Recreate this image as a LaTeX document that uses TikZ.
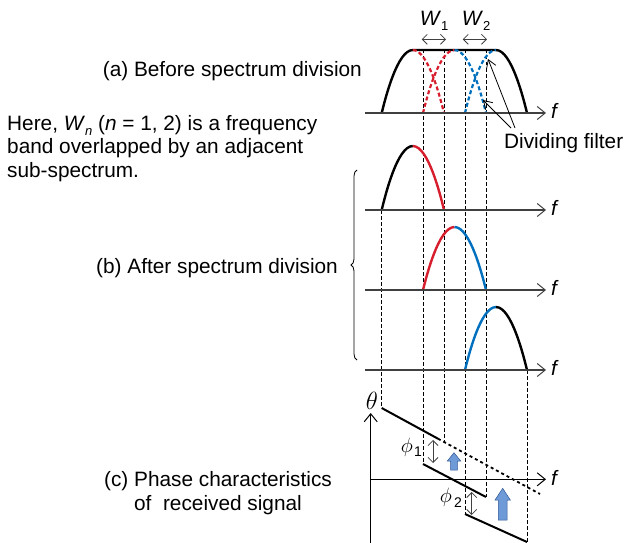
\documentclass[tikz,border=0pt]{standalone}
\usepackage{fontspec}
\setmainfont{Liberation Sans}
\usetikzlibrary{arrows.meta,decorations.pathreplacing}
\definecolor{myred}{RGB}{215,30,45}
\definecolor{myblue}{RGB}{0,112,190}
\definecolor{arrfill}{RGB}{110,155,215}
\definecolor{arrdraw}{RGB}{45,85,150}
\begin{document}
\begin{tikzpicture}[x=1pt,y=-1pt,
  txt/.style={font=\fontsize{20.8}{23.5}\selectfont, inner sep=0pt},
  ftxt/.style={inner sep=0pt, font=\fontsize{20.8}{22.5}\selectfont\itshape},
  axisline/.style={line width=1.2pt, black!75, -{Straight Barb[length=8pt,width=13pt,line width=1pt]}},
  guide/.style={line width=0.7pt, dash pattern=on 3.5pt off 2.5pt},
  curve/.style={line width=2.4pt},
  fdash/.style={line width=2.2pt, dash pattern=on 4pt off 2.5pt},
  dbl/.style={line width=0.8pt, black!75, {Straight Barb[length=5pt,width=10pt]}-{Straight Barb[length=5pt,width=10pt]}},
  pointer/.style={line width=0.8pt, -{Straight Barb[length=8pt,width=10pt]}},
  fat/.style={fill=arrfill, draw=arrdraw, line width=0.5pt},
  phase/.style={line width=2pt},
]
\useasboundingbox (0,0) rectangle (626,543);

% ---------- guide lines ----------
\coordinate (g0a) at (381.7,210); \coordinate (g0b) at (381.7,408);
\coordinate (g1a) at (423,50);    \coordinate (g1b) at (423,464);
\coordinate (g2a) at (444,50);    \coordinate (g2b) at (444,442);
\coordinate (g3a) at (465,50);    \coordinate (g3b) at (465,514);
\coordinate (g4a) at (486,50);    \coordinate (g4b) at (486,497);
\coordinate (g5a) at (527,370);   \coordinate (g5b) at (527,542);
\foreach \i in {0,...,5} \draw[guide] (g\i a) -- (g\i b);

% ---------- (a) before division ----------
\draw[curve] (381.7,113) parabola[bend at end] (412.8,50) -- (496,50) parabola[bend at start] (527,113);
\draw[fdash, myred] (412.8,50) parabola[bend at start] (444,113);
\draw[fdash, myred] (423,113) parabola[bend at end] (454.5,50);
\draw[fdash, myblue] (454.5,50) parabola[bend at start] (486,113);
\draw[fdash, myblue] (465,113) parabola[bend at end] (496,50);
\coordinate (ax0) at (365,113); \coordinate (ax0e) at (546,113);
\draw[axisline] (ax0) -- (ax0e);
\node[ftxt] (f0) at (554,111) {f};

% W arrows
\coordinate (w1a) at (421.7,39.3); \coordinate (w1b) at (446,39.3);
\coordinate (w2a) at (462.7,39.3); \coordinate (w2b) at (487,39.3);
\draw[dbl] (w1a) -- (w1b);
\draw[dbl] (w2a) -- (w2b);
\node[txt] (W1) at (434,21) {\textit{W}\raisebox{-0.45ex}{\fontsize{13}{13}\selectfont 1}};
\node[txt] (W2) at (476,21) {\textit{W}\raisebox{-0.45ex}{\fontsize{13}{13}\selectfont 2}};

% dividing filter
\node[txt, anchor=west] (df) at (504,143) {Dividing filter};
\coordinate (dfa) at (515,128); \coordinate (dfb) at (511,128);
\coordinate (dft1) at (488,59); \coordinate (dft2) at (483,100);
\draw[pointer] (dfa) -- (dft1);
\draw[pointer] (dfb) -- (dft2);

\node[txt, anchor=east] (la) at (362,71) {(a) Before spectrum division};

% ---------- (b) after division ----------
\draw[curve] (381.7,210) parabola[bend at end] (412.8,146);
\draw[curve, myred] (412.8,146) parabola[bend at start] (444,210);
\draw[curve, myred] (423,290) parabola[bend at end] (454.5,227);
\draw[curve, myblue] (454.5,227) parabola[bend at start] (486,290);
\draw[curve, myblue] (465,370) parabola[bend at end] (496,307);
\draw[curve] (496,307) parabola[bend at start] (527,370);
\foreach \y/\n in {210/1,290/2,370/3}{
  \coordinate (ax\n) at (365,\y); \coordinate (ax\n e) at (546,\y);
  \draw[axisline] (ax\n) -- (ax\n e);
  \node[ftxt] (f\n) at (554,\y-2) {f};
}
\draw[line width=0.8pt, decorate, decoration={brace, amplitude=6pt}] (357,360) -- (357,170);
\node[txt, anchor=east] (lb) at (338,268) {(b) After spectrum division};

\node[txt, anchor=north west, align=left] (here) at (7,115)
  {Here, \textit{W}\raisebox{-0.45ex}{\fontsize{13}{13}\selectfont\itshape n} (\textit{n} = 1, 2) is a frequency\\
   band overlapped by an adjacent\\ sub-spectrum.};

% ---------- (c) phase ----------
\coordinate (th0) at (370.7,543); \coordinate (th1) at (370.7,413);
\draw[axisline, black] (th0) -- (th1);
\coordinate (fx0) at (370.7,479.3); \coordinate (fx1) at (546,479.3);
\draw[axisline, black] (fx0) -- (fx1);
\node[ftxt] (f4) at (554,478) {f};
\node[inner sep=0pt, font=\fontsize{24}{24}\selectfont] (theta) at (372,401) {$\theta$};

\coordinate (p1a) at (381.7,408); \coordinate (p1b) at (438,438.7); \coordinate (p1c) at (540,494);
\draw[phase] (p1a) -- (p1b);
\draw[line width=1.8pt, dash pattern=on 3pt off 3pt] (p1b) -- (p1c);
\coordinate (p2a) at (423,464); \coordinate (p2b) at (486,497);
\draw[phase] (p2a) -- (p2b);
\coordinate (p3a) at (465,514); \coordinate (p3b) at (527,542);
\draw[phase] (p3a) -- (p3b);

\coordinate (ph1a) at (433,440); \coordinate (ph1b) at (433,463);
\draw[dbl] (ph1a) -- (ph1b);
\coordinate (ph2a) at (471.7,492); \coordinate (ph2b) at (471.7,515);
\draw[dbl] (ph2a) -- (ph2b);
\node[inner sep=0pt, font=\fontsize{22}{22}\selectfont] (phi1) at (407,447) {$\phi$};
\node[txt, font=\fontsize{14}{14}\selectfont] (s1) at (418,452) {1};
\node[inner sep=0pt, font=\fontsize{22}{22}\selectfont] (phi2) at (446,497) {$\phi$};
\node[txt, font=\fontsize{14}{14}\selectfont] (s2) at (458,503) {2};

\draw[fat] (450.7,470) -- (450.7,461) -- (447.3,461) -- (454,452.7) -- (460.7,461) -- (457.3,461) -- (457.3,470) -- cycle;
\draw[fat] (498.3,520) -- (498.3,500) -- (495,500) -- (502.7,488.3) -- (510.3,500) -- (507,500) -- (507,520) -- cycle;

\node[txt, align=center] (lc) at (218,493) {(c) Phase characteristics\\of~ received signal};
\end{tikzpicture}
\end{document}
